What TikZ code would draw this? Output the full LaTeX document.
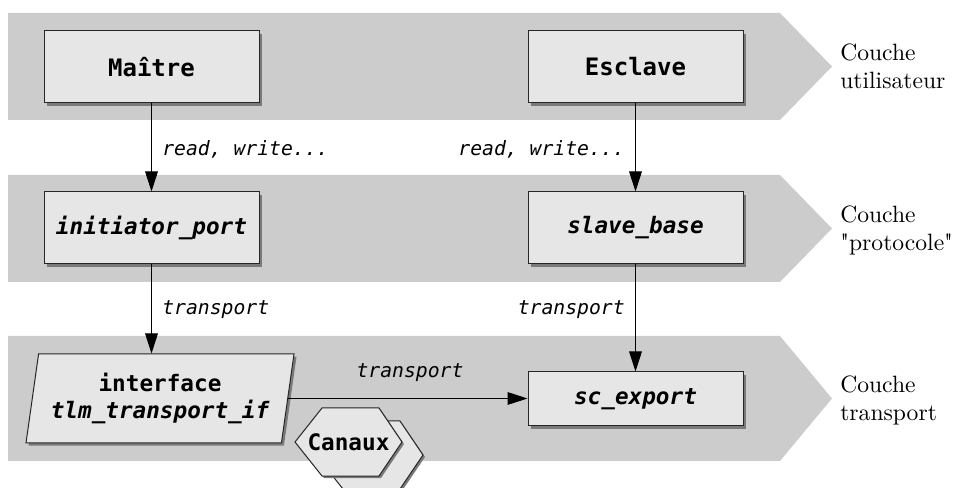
\documentclass[tikz,border=0pt]{standalone}
\usepackage{fontspec}
\newfontfamily\dmono{DejaVu Sans Mono}
\newfontfamily\layerfont{lmroman10-regular}[Extension=.otf, Ligatures=TeXOff]
\usetikzlibrary{shapes.geometric,arrows.meta,shadows}
\definecolor{bandgray}{HTML}{CCCCCC}
\definecolor{boxgray}{HTML}{E6E6E6}
\definecolor{shadowgray}{HTML}{7A7A7A}
\begin{document}
\begin{tikzpicture}[x=0.75pt,y=-0.75pt,
 band/.style={fill=bandgray, draw=none},
 boxshadow/.style={general shadow={fill=shadowgray, shadow xshift=1.9pt, shadow yshift=-1.9pt}},
 box/.style={draw=black!85, line width=0.75pt, fill=boxgray, minimum width=161.25pt, minimum height=54pt, inner sep=0pt, font=\dmono\bfseries\fontsize{17}{20}\selectfont, boxshadow},
 hexa/.style={draw=black!85, line width=0.75pt, fill=boxgray},
 lbl/.style={font=\dmono\itshape\fontsize{14.8}{17}\selectfont, inner sep=0pt},
 layer/.style={font=\layerfont\fontsize{17.7}{21}\selectfont, align=left, anchor=base west, inner sep=0pt},
 conn/.style={line width=0.75pt, -{Triangle[length=15pt,width=9.5pt]}},
]
\clip (0,0) rectangle (954,488);
\useasboundingbox (0,0) rectangle (954,488);
% bands
\fill[band] (8,13) -- (780,13) -- (832,66.5) -- (780,120) -- (8,120) -- cycle;
\fill[band] (8,175) -- (780,175) -- (832,228.5) -- (780,282) -- (8,282) -- cycle;
\fill[band] (8,336) -- (780,336) -- (832,398.5) -- (780,461) -- (8,461) -- cycle;
% boxes
\node[box, font=\dmono\bfseries\fontsize{18}{21}\selectfont] (maitre) at (151.5,67) {Maître};
\node[box, font=\dmono\bfseries\fontsize{18}{21}\selectfont] (esclave) at (635.5,67) {Esclave};
\node[box] (init) at (151.5,228) {\itshape initiator\_port};
\node[box] (slave) at (635.5,228) {\itshape slave\_base};
\node[box, minimum height=40.5pt] (sce) at (635.5,399) {\itshape sc\_export};
\node[box, trapezium, trapezium left angle=76, trapezium right angle=104, trapezium stretches body, minimum width=201pt, minimum height=66.75pt, align=center] (iface) at (160,398.5) {interface\\\itshape tlm\_transport\_if};
% channels
\fill[shadowgray] (318,457) -- (345,423) -- (402,423) -- (425,457) -- (402,491) -- (345,491) -- cycle;
\draw[hexa] (316,455) -- (343,421) -- (400,421) -- (423,455) -- (400,489) -- (343,489) -- cycle;
\fill[shadowgray] (297,444) -- (324,410) -- (381,410) -- (404,444) -- (381,478) -- (324,478) -- cycle;
\draw[hexa] (295,442) -- (322,408) -- (379,408) -- (402,442) -- (379,476) -- (322,476) -- cycle;
\node[font=\dmono\bfseries\fontsize{17}{20}\selectfont, inner sep=0pt] (canaux) at (348.5,442) {Canaux};
% connectors
\draw[conn] (maitre) -- (init);
\draw[conn] (esclave) -- (slave);
\draw[conn] (init.south) -- (init.south |- iface.north);
\draw[conn] (slave) -- (sce);
\draw[conn] (iface.east) -- (iface.east -| sce.west);
% labels
\node[lbl, anchor=base west] (l1) at (162,156) {read, write...};
\node[lbl, anchor=base east] (l2) at (625,156) {read, write...};
\node[lbl, anchor=base west] (l3) at (162,315) {transport};
\node[lbl, anchor=base east] (l4) at (625,315) {transport};
\node[lbl, anchor=base] (l5) at (410,378) {transport};
% layer names (base = baseline of last line)
\node[layer] (c1) at (840,89) {Couche\\utilisateur};
\node[layer] (c2) at (840,250.5) {Couche\\"protocole"};
\node[layer] (c3) at (840,420.5) {Couche\\transport};
\end{tikzpicture}
\end{document}
